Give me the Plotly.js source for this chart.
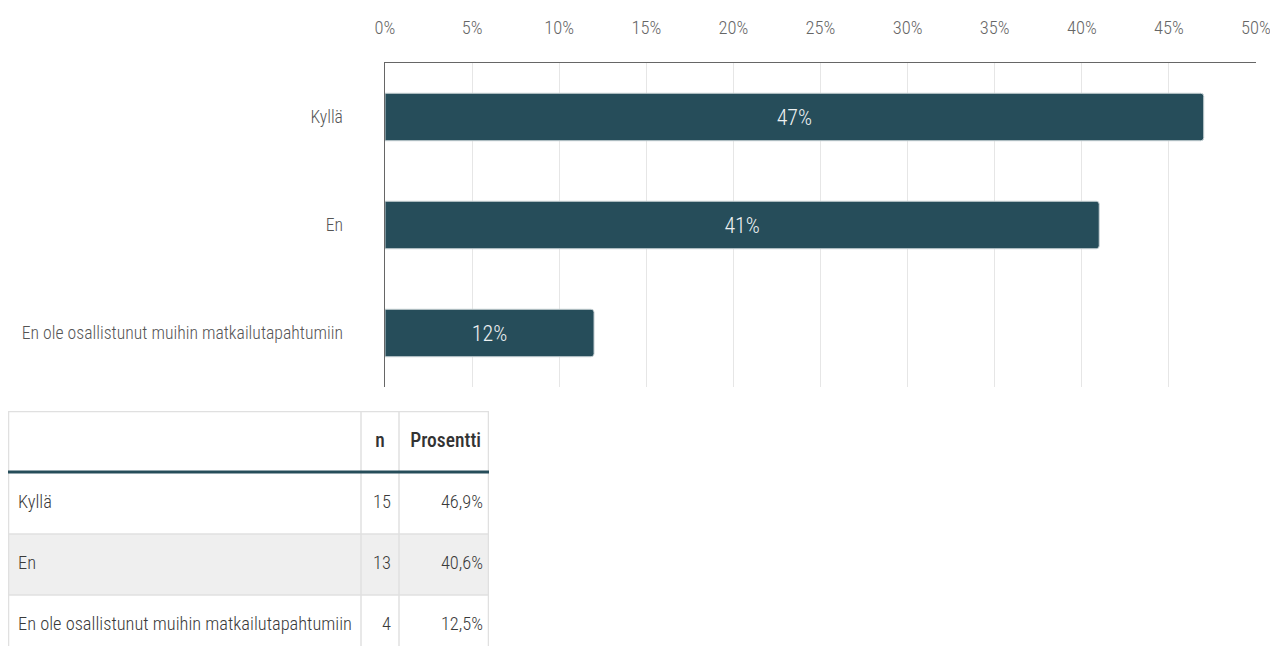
<!DOCTYPE html>
<html>
<head>
<meta charset="utf-8">
<script src="https://cdn.plot.ly/plotly-3.0.1.min.js"></script>
<style>html,body{margin:0;padding:0;background:#fff;}#chart{width:1270px;height:646px;}</style>
</head>
<body>
<div id="chart"></div>
<script>
const categories = ["Kyllä", "En", "En ole osallistunut muihin matkailutapahtumiin"];
const barValues = [47, 41, 12];
const counts = [15, 13, 4];
const percentTexts = ["46,9%", "40,6%", "12,5%"];
const tableHeader = ["", "n", "Prosentti"];
const tickValues = [0, 5, 10, 15, 20, 25, 30, 35, 40, 45, 50];
const tickTexts = ["0%", "5%", "10%", "15%", "20%", "25%", "30%", "35%", "40%", "45%", "50%"];

const FAM = "'Roboto Condensed', 'Liberation Sans Narrow', Roboto, Arial, sans-serif";
const W = 1270, H = 646;
const px = v => v / W;
const py = v => 1 - v / H;

// ---- bar chart ----
const bar = {
  type: 'bar',
  orientation: 'h',
  y: categories,
  x: barValues,
  texttemplate: '%{x}%',
  textposition: 'inside',
  insidetextanchor: 'middle',
  textfont: {family: FAM, size: 22, weight: 300, color: '#eef1f2'},
  marker: {color: '#264d5a', cornerradius: 3, line: {color: '#c9d3d6', width: 1}},
  width: 0.44,
  hoverinfo: 'skip',
  showlegend: false,
  xaxis: 'x', yaxis: 'y'
};

// ---- table (drawn on its own pixel-unit axes) ----
const T_LEFT = 8, T_RIGHT = 489, T_TOP = 411;
const tW = T_RIGHT - T_LEFT, tH = H - T_TOP;
const colEdges = [0, 353, 391, 481];
const headerH = 62, rowH = 61;
const rowTop = i => headerH + i * rowH;
const rowMid = i => rowTop(i) + rowH / 2;

const shapes = [];
categories.forEach((c, i) => {
  shapes.push({type: 'rect', xref: 'x2', yref: 'y2', layer: 'below',
    x0: 0, x1: tW, y0: rowTop(i), y1: rowTop(i) + rowH,
    fillcolor: i % 2 === 1 ? '#efefef' : '#ffffff', line: {width: 0}});
});
categories.forEach((c, i) => {
  if (i > 0) shapes.push({type: 'line', xref: 'x2', yref: 'y2', layer: 'above',
    x0: 0, x1: tW, y0: rowTop(i), y1: rowTop(i), line: {color: '#e0e0e0', width: 1.5}});
});
shapes.push({type: 'line', xref: 'x2', yref: 'y2', x0: 0, x1: tW, y0: 0.5, y1: 0.5, line: {color: '#e0e0e0', width: 1.5}});
colEdges.forEach(e => {
  const xe = Math.max(0.5, Math.min(tW - 0.5, e));
  shapes.push({type: 'line', xref: 'x2', yref: 'y2', layer: 'above',
    x0: xe, x1: xe, y0: 0, y1: tH, line: {color: '#e0e0e0', width: 1.5}});
});
shapes.push({type: 'line', xref: 'x2', yref: 'y2', layer: 'above',
  x0: 0, x1: tW, y0: headerH - 1, y1: headerH - 1, line: {color: '#264d5a', width: 3}});

const cellFont = {family: FAM, size: 18.4, weight: 300, color: '#3a3a3a'};
const headFont = {family: FAM, size: 19.5, weight: 500, color: '#333333'};
const rowYs = categories.map((c, i) => rowMid(i));

const tCol1 = {type: 'scatter', mode: 'text', xaxis: 'x2', yaxis: 'y2',
  x: categories.map(() => 10), y: rowYs, text: categories,
  textposition: 'middle right', textfont: cellFont, hoverinfo: 'skip', showlegend: false, cliponaxis: false};
const tCol2 = {type: 'scatter', mode: 'text', xaxis: 'x2', yaxis: 'y2',
  x: counts.map(() => colEdges[2] - 8), y: rowYs, text: counts.map(String),
  textposition: 'middle left', textfont: cellFont, hoverinfo: 'skip', showlegend: false, cliponaxis: false};
const tCol3 = {type: 'scatter', mode: 'text', xaxis: 'x2', yaxis: 'y2',
  x: percentTexts.map(() => colEdges[3] - 6), y: rowYs, text: percentTexts,
  textposition: 'middle left', textfont: cellFont, hoverinfo: 'skip', showlegend: false, cliponaxis: false};
const tHead = {type: 'scatter', mode: 'text', xaxis: 'x2', yaxis: 'y2',
  x: [10, (colEdges[1] + colEdges[2]) / 2, colEdges[3] - 8], y: [headerH / 2, headerH / 2, headerH / 2],
  text: tableHeader, textposition: ['middle right', 'middle center', 'middle left'],
  textfont: headFont, hoverinfo: 'skip', showlegend: false, cliponaxis: false};

const layout = {
  width: W, height: H,
  margin: {l: 0, r: 0, t: 0, b: 0},
  paper_bgcolor: '#ffffff',
  plot_bgcolor: 'rgba(0,0,0,0)',
  font: {family: FAM, color: '#555555'},
  showlegend: false,
  xaxis: {
    domain: [px(385), px(1256)],
    range: [0, 50],
    side: 'top',
    anchor: 'y',
    tickvals: tickValues,
    ticktext: tickTexts,
    tickfont: {family: FAM, size: 18.5, weight: 300, color: '#666666'},
    ticks: '',
    ticklabelstandoff: 20,
    ticklabeloverflow: 'allow',
    showgrid: true,
    gridcolor: '#e6e6e6',
    gridwidth: 1,
    showline: true,
    linecolor: '#666666',
    linewidth: 1.5,
    zeroline: false,
    fixedrange: true
  },
  yaxis: {
    domain: [py(387), py(63)],
    anchor: 'x',
    autorange: 'reversed',
    tickfont: {family: FAM, size: 17.7, weight: 300, color: '#555555'},
    ticks: '',
    ticklabelstandoff: 37,
    showline: true,
    linecolor: '#666666',
    linewidth: 1.5,
    showgrid: false,
    fixedrange: true
  },
  xaxis2: {domain: [px(T_LEFT), px(T_RIGHT)], range: [0, tW], anchor: 'y2', visible: false, fixedrange: true},
  yaxis2: {domain: [0, py(T_TOP)], range: [tH, 0], anchor: 'x2', visible: false, fixedrange: true},
  shapes: shapes
};

Plotly.newPlot('chart', [bar, tHead, tCol1, tCol2, tCol3], layout, {displayModeBar: false, staticPlot: true});
</script>
</body>
</html>
